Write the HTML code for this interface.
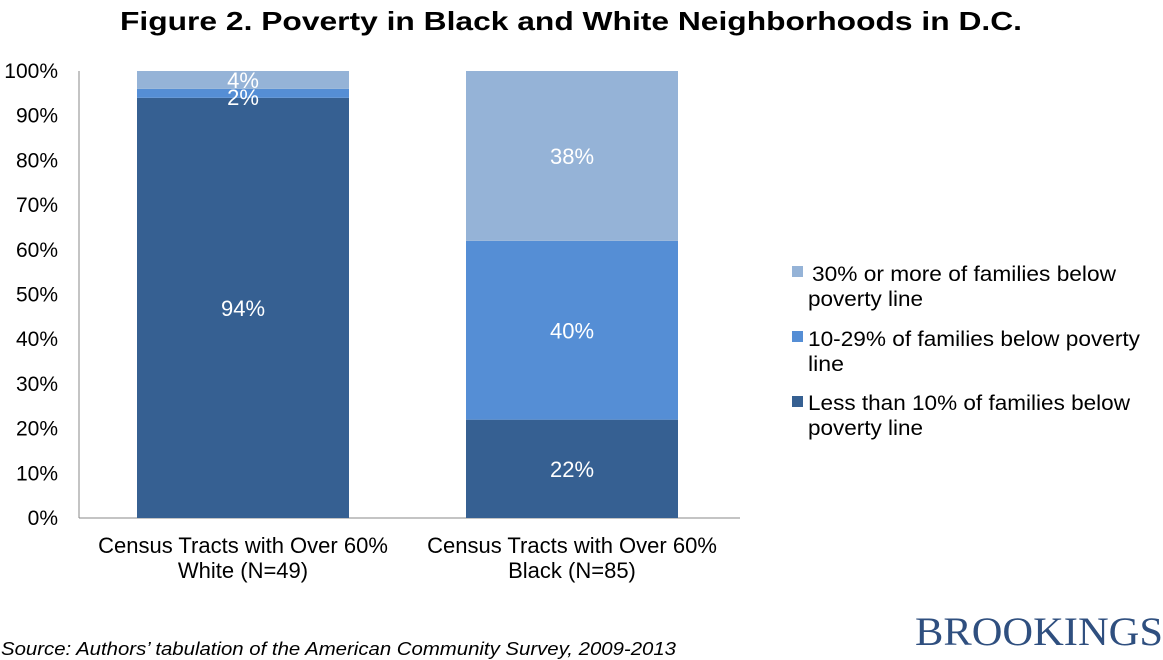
<!DOCTYPE html>
<html><head><meta charset="utf-8"><style>
body{margin:0;background:#fff;}
svg{display:block;font-family:"Liberation Sans",Arial,sans-serif;}
</style></head><body>
<svg id="chart" width="1163" height="660">
<text x="120" y="30" font-size="26" font-weight="bold" textLength="902" lengthAdjust="spacingAndGlyphs">Figure 2. Poverty in Black and White Neighborhoods in D.C.</text>
<g id="axes"></g>
<g id="bars"></g>
<g font-size="21">
<rect x="792" y="266" width="11" height="11" fill="#95b3d7"/>
<text x="812" y="281" textLength="304" lengthAdjust="spacingAndGlyphs">30% or more of families below</text>
<text x="808" y="306" textLength="115" lengthAdjust="spacingAndGlyphs">poverty line</text>
<rect x="792" y="331" width="11" height="11" fill="#558ed5"/>
<text x="808" y="346" textLength="332" lengthAdjust="spacingAndGlyphs">10-29% of families below poverty</text>
<text x="808" y="371" textLength="36" lengthAdjust="spacingAndGlyphs">line</text>
<rect x="792" y="396" width="11" height="11" fill="#366092"/>
<text x="808" y="410" textLength="322" lengthAdjust="spacingAndGlyphs">Less than 10% of families below</text>
<text x="808" y="435" textLength="115" lengthAdjust="spacingAndGlyphs">poverty line</text>
</g>
<text x="1" y="655" font-size="18" font-style="italic" textLength="675" lengthAdjust="spacingAndGlyphs">Source: Authors’ tabulation of the American Community Survey, 2009-2013</text>
<text x="915" y="645" font-size="40" fill="#2f4f7f" textLength="248" lengthAdjust="spacingAndGlyphs" font-family="Liberation Serif,serif">BROOKINGS</text>
</svg>
<script>
const categories=[["Census Tracts with Over 60%","White (N=49)"],["Census Tracts with Over 60%","Black (N=85)"]];
const under10=[94,22];
const mid10to29=[2,40];
const over30=[4,38];
const yTicks=[0,10,20,30,40,50,60,70,80,90,100];
const NS="http://www.w3.org/2000/svg";
const y0=518,y1=71,xL=79,xR=740;
const yS=v=>y0-(y0-y1)*v/100;
const barX=[137,466],barW=212;
function mk(tag,attrs,parent){const e=document.createElementNS(NS,tag);for(const k in attrs)e.setAttribute(k,attrs[k]);parent.appendChild(e);return e;}
const axes=document.getElementById('axes'),bars=document.getElementById('bars');
const ya=mk('line',{x1:xL,y1:y1,x2:xL,y2:y0,stroke:'#888'},axes);


const xa=mk('line',{x1:xL,y1:y0,x2:xR,y2:y0,stroke:'#888'},axes);


yTicks.forEach(t=>{const tx=mk('text',{x:58,y:yS(t)+7,'text-anchor':'end','font-size':21},axes);tx.textContent=t+'%';

});
const series=[[under10,'#366092'],[mid10to29,'#558ed5'],[over30,'#95b3d7']];
categories.forEach((c,i)=>{
 let base=0;
 series.forEach(([arr,col],s)=>{
  const v=arr[i];const yt=yS(base+v),yb=yS(base);
  const r=mk('rect',{x:barX[i],y:yt,width:barW,height:yb-yt,fill:col},bars);
  
  
  let ly=(yt+yb)/2+8;
  if(v<=2) ly=yt+8+8;
  const lt=mk('text',{x:barX[i]+barW/2,y:ly,'text-anchor':'middle','font-size':22,fill:'#fff'},bars);
  lt.textContent=v+'%';
  
  
  base+=v;
 });
 c.forEach((ln,j)=>{const t=mk('text',{x:barX[i]+barW/2,y:553+j*25,'text-anchor':'middle','font-size':22},axes);t.textContent=ln;
 
 });
});
</script>
</body></html>
